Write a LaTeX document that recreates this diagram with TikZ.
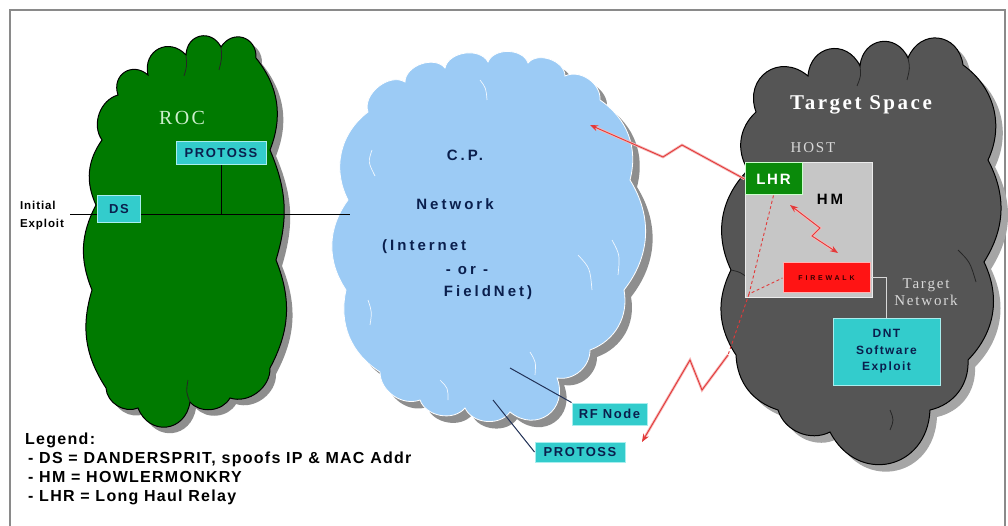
\documentclass[tikz,border=0pt]{standalone}
\usepackage{fontspec}
\setmainfont{Liberation Serif}
\setsansfont{Liberation Sans}
\newfontfamily\bsans[LetterSpace=12]{Liberation Sans}
\newfontfamily\wsans[LetterSpace=20]{Liberation Sans}
\newfontfamily\lsans[LetterSpace=8]{Liberation Sans}
\newfontfamily\tsans[LetterSpace=40]{Liberation Sans}
\newfontfamily\bserif[LetterSpace=12]{Liberation Serif}
\usetikzlibrary{arrows.meta}

\definecolor{rocgreen}{HTML}{007A00}
\definecolor{shadowgray}{HTML}{8E8E8E}
\definecolor{cpblue}{HTML}{9CCBF5}
\definecolor{tgray}{HTML}{555555}
\definecolor{cyanbox}{HTML}{33CCCC}
\definecolor{cyanedge}{HTML}{A8EEEE}
\definecolor{navy}{HTML}{0A1F4D}
\definecolor{hostgray}{HTML}{C6C6C6}
\definecolor{lhrgreen}{HTML}{0A8A0A}
\definecolor{fwred}{HTML}{FF1414}
\definecolor{zred}{HTML}{E23A3A}
\definecolor{zpink}{HTML}{F6B8B8}
\definecolor{framegray}{HTML}{8A8A8A}
\definecolor{roctext}{HTML}{CDEFCD}
\definecolor{paletext}{HTML}{D8D8D8}

\tikzset{
  cb/.style={bend left=#1}, cb/.default=55,
  tb/.style={bend left=75, looseness=1.5},
  cbox/.style={fill=cyanbox, draw=cyanedge, line width=1pt, inner sep=0pt,
    text=navy, font=\bsans\bfseries\fontsize{13}{15}\selectfont},
  bluetext/.style={text=navy, font=\wsans\bfseries\fontsize{15}{17}\selectfont},
  legendtext/.style={anchor=base west, inner sep=0pt, font=\lsans\bfseries\fontsize{16}{18}\selectfont},
  zz/.style={draw=zred, line width=0.9pt, preaction={draw=zpink, line width=2.6pt}},
  zdash/.style={draw=zred, line width=0.9pt, dash pattern=on 3pt off 2.5pt},
  ztip/.style={-{Stealth[length=8pt,width=6pt]}},
  navyline/.style={draw=navy!80!gray, line width=1pt},
  bluemark/.style={draw=white!85!cpblue, line width=0.7pt},
  darkmark/.style={draw=black!85, line width=0.8pt},
}

\newcommand\GreenCloud[1]{\path[#1] (102,140) to[cb] (118,95) to[tb] (148,75) to[tb] (186,55) to[tb] (221,47) to[tb] (256,58)
  to[cb=30] (270,150) to[cb=20] (276,260) to[cb=25] (270,368) to[cb] (230,398)
  to[cb] (190,402) to[tb] (138,408) to[cb] (106,388) to[cb=25] (92,290) to[cb=25] (96,205) to[cb=30] (102,140) -- cycle;}

\newcommand\BlueCloud[1]{\path[#1] (368,112) to[cb=70] (405,82) to[cb=70] (445,68) to[cb=70] (488,62) to[cb=70] (528,63)
  to[cb=70] (565,76) to[cb=60] (600,100) to[cb=35] (630,180) to[cb=35] (624,290) to[cb=40] (590,350)
  to[cb=50] (557,378) to[tb] (510,412) to[cb=60] (465,408) to[cb=60] (420,400) to[cb=55] (380,372)
  to[cb=35] (346,290) to[cb=35] (348,200) to[cb=40] (368,112) -- cycle;}

\newcommand\TargetCloud[1]{\path[#1] (756,112) to[tb] (808,76) to[tb] (860,66) to[tb] (908,58) to[tb] (963,65)
  to[cb=40] (988,160) to[cb=30] (984,262) to[cb=35] (968,360) to[cb=40] (930,410)
  to[tb] (830,432) to[cb=50] (778,410) to[cb=35] (736,355) to[cb=30] (731,270) to[cb=35] (748,170)
  to[cb=40] (756,112) -- cycle;}

\begin{document}
\begin{tikzpicture}[x=1pt,y=-1pt]
\useasboundingbox (0,0) rectangle (1008,526);
\fill[white] (0,0) rectangle (1008,526);

% frame
\draw[framegray, line width=1.5pt] (10,540) -- (10,10) -- (1005,10) -- (1005,540);

% clouds
\GreenCloud{fill=shadowgray, shift={(6,6)}}
\GreenCloud{fill=rocgreen, draw=black, line width=1pt}
\BlueCloud{fill=shadowgray, shift={(7,7)}}
\BlueCloud{fill=cpblue, draw=white, line width=0.8pt}
\TargetCloud{fill=shadowgray!80, shift={(7,7)}}
\TargetCloud{fill=tgray, draw=black, line width=1pt}

% cloud inner marks
\draw[darkmark] (221,47) .. controls (222,58) .. (219,70);
\draw[darkmark] (186,56) .. controls (187,66) .. (184,76);
\draw[darkmark] (190,402) .. controls (186,392) .. (188,380);
\draw[bluemark] (372,150) .. controls (368,162) .. (375,176);
\draw[bluemark] (480,80) .. controls (486,88) .. (487,100);
\draw[bluemark] (612,240) .. controls (620,255) .. (618,275);
\draw[bluemark] (578,255) .. controls (590,268) .. (592,290);
\draw[bluemark] (530,352) .. controls (536,362) .. (535,375);
\draw[bluemark] (440,380) .. controls (448,388) .. (448,400);
\draw[bluemark] (368,300) .. controls (372,312) .. (370,325);
\draw[darkmark] (908,58) .. controls (910,68) .. (907,80);
\draw[darkmark] (860,66) .. controls (861,76) .. (857,86);
\draw[darkmark] (958,250) .. controls (970,262) .. (976,282);
\draw[darkmark] (890,410) .. controls (894,420) .. (890,430);
\draw[darkmark] (731,270) .. controls (740,272) .. (748,278);

% ROC cloud content
\node[text=roctext, font=\bserif\fontsize{20}{22}\selectfont] (roc) at (182,118) {ROC};
\coordinate (lineL) at (70,214);
\coordinate (lineR) at (350,214);
\node[cbox, minimum width=90pt, minimum height=23pt] (protA) at (221,153.5) {PROTOSS};
\draw[black, line width=0.8pt] (lineL) -- (lineR);
\draw[black, line width=0.8pt] (protA.south) -- (protA.south |- lineR);
\node[cbox, minimum width=43pt, minimum height=27pt] (ds) at (119,209) {DS};
\node[align=left, inner sep=0pt, font=\lsans\bfseries\fontsize{11.5}{18}\selectfont] (init) at (42,216) {Initial\\Exploit};

% C.P. network content
\node[bluetext] (cp) at (465,155) {C.P.};
\node[bluetext] (net) at (455,204) {Network};
\node[bluetext, anchor=west, inner sep=0pt] (inet) at (382,247) {(Internet};
\node[bluetext] (or) at (467,271) {- or -};
\node[bluetext] (fnet) at (488,293) {FieldNet)};
\node[cbox, minimum width=75pt, minimum height=22pt] (rf) at (609.5,414) {RF Node};
\node[cbox, minimum width=90pt, minimum height=20pt] (protB) at (580,452) {PROTOSS};
\coordinate (rfend) at (510,368);
\coordinate (pbend) at (493,400);
\draw[navyline] (rf.north west) -- (rfend);
\draw[navyline] (protB.west) -- (pbend);

% Target space content
\node[text=white, font=\bserif\bfseries\fontsize{21}{23}\selectfont] (ts) at (861,105) {Target Space};
\node[text=paletext, font=\bserif\fontsize{15}{17}\selectfont] (host) at (813,148) {HOST};
\node[fill=hostgray, draw=white!85!gray, line width=1pt, minimum width=127pt, minimum height=134pt, inner sep=0pt] (hostbox) at (808.5,230) {};
\node[fill=lhrgreen, draw=white!80!green, line width=1pt, minimum width=57pt, minimum height=32pt, inner sep=0pt,
      text=white, font=\bsans\bfseries\fontsize{15}{17}\selectfont] (lhr) at (773.5,179) {LHR};
\node[text=black, font=\wsans\bfseries\fontsize{15}{17}\selectfont] (hm) at (830,199) {HM};
\node[fill=fwred, draw=white!70!red, line width=1pt, minimum width=87pt, minimum height=30pt, inner sep=0pt,
      text=black!80!red, font=\tsans\bfseries\fontsize{7}{8}\selectfont] (fw) at (826.5,278) {FIREWALK};
\node[align=center, text=paletext, font=\bserif\fontsize{15}{17}\selectfont] (tnet) at (926,292) {Target\\Network};
\node[cbox, align=center, minimum width=107pt, minimum height=67pt, font=\bsans\bfseries\fontsize{12}{16.5}\selectfont] (dnt) at (886.5,351.5) {DNT\\Software\\Exploit};
\draw[paletext, line width=1pt] (fw.east) -| (dnt.north);

% red connectors
\coordinate (cpin) at (590,125);
\coordinate (hostbl) at (749,294);
\coordinate (exitpt) at (728,355);
\coordinate (pbtip) at (642,442);
\coordinate (hmA) at (790,205);
\coordinate (hmB) at (838,253);
\draw[zdash] (lhr.south) -- (hostbl) -- (fw.west);
\draw[zdash] (hostbl) -- (exitpt);
\draw[zz, ztip] (lhr.west) -- (682,145) -- (663,157) -- (cpin);
\draw[zz, ztip] (exitpt) -- (702,390) -- (690,360) -- (pbtip);
\draw[zz, {Stealth[length=8pt,width=6pt]}-{Stealth[length=8pt,width=6pt]}] (hmA) -- (820,228) -- (812,236) -- (hmB);

% legend
\node[legendtext] (leg0) at (25,444) {Legend:};
\node[legendtext] (leg1) at (28,463) {- DS = DANDERSPRIT, spoofs IP \& MAC Addr};
\node[legendtext] (leg2) at (28,482) {- HM = HOWLERMONKRY};
\node[legendtext] (leg3) at (28,501) {- LHR = Long Haul Relay};
\end{tikzpicture}
\end{document}
